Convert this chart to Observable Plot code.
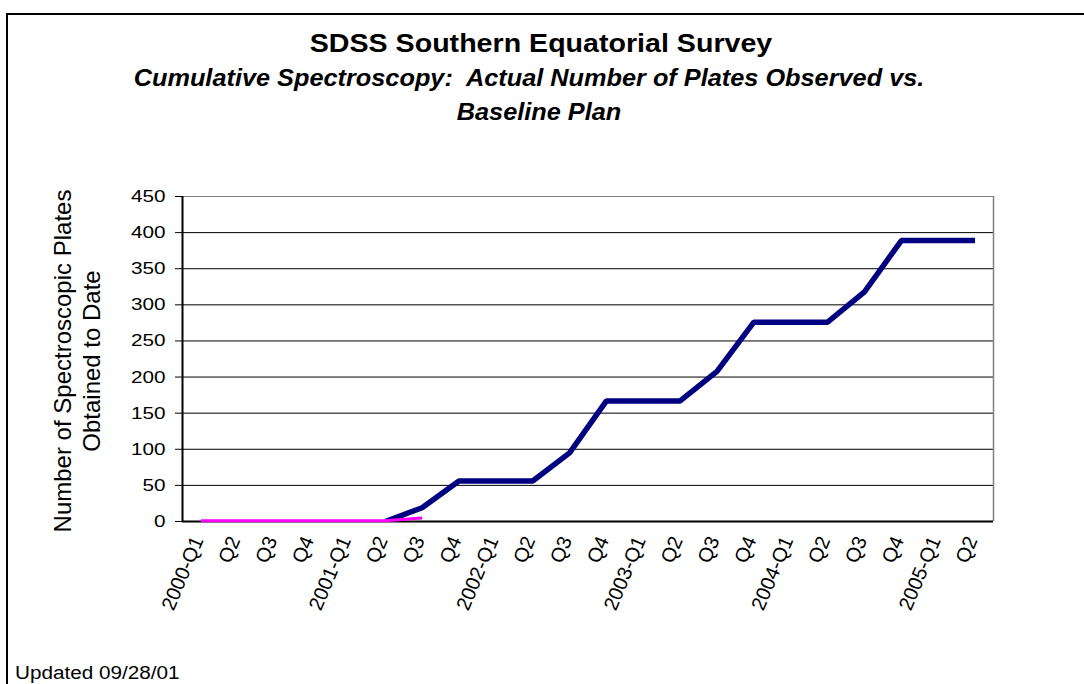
<!DOCTYPE html>
<html>
<head>
<meta charset="utf-8">
<script src="https://cdn.jsdelivr.net/npm/d3@7"></script>
<script src="https://cdn.jsdelivr.net/npm/@observablehq/plot@0.6"></script>
<style>
  body { margin: 0; background: #fff; }
  #wrap { position: relative; width: 1084px; height: 684px; overflow: hidden; background: #fff;
          font-family: "Liberation Sans", Arial, sans-serif; color: #000; }
  #border { position: absolute; left: 6px; top: 13px; width: 1200px; height: 800px;
            border-top: 2px solid #000; border-left: 2px solid #000; }
  .t { position: absolute; white-space: nowrap; text-align: center; line-height: 1; }
  #chart { position: absolute; left: 0; top: 0; }
  #title { left: 141px; width: 800px; top: 30px; font-size: 26px; font-weight: bold; transform: scaleX(1.1); }
  #sub1 { left: 129px; width: 800px; top: 67px; font-size: 23px; font-weight: bold; font-style: italic; transform: scaleX(1.1); }
  #sub2 { left: 139px; width: 800px; top: 101px; font-size: 23px; font-weight: bold; font-style: italic; transform: scaleX(1.1); }
  #updated { left: 15px; top: 664px; font-size: 18px; text-align: left; transform: scaleX(1.15); transform-origin: 0 0; }
  #ytitle { position: absolute; left: -123px; top: 332px; width: 400px; height: 58px; text-align: center;
            font-size: 24px; line-height: 29px; transform: rotate(-90deg); transform-origin: 200px 29px; white-space: nowrap; }
</style>
</head>
<body>
<div id="wrap">
  <div id="border"></div>
  <div id="chart"></div>
  <div class="t" id="title">SDSS Southern Equatorial Survey</div>
  <div class="t" id="sub1">Cumulative Spectroscopy:&nbsp; Actual Number of Plates Observed vs.</div>
  <div class="t" id="sub2">Baseline Plan</div>
  <div id="ytitle">Number of Spectroscopic Plates<br>Obtained to Date</div>
  <div class="t" id="updated">Updated 09/28/01</div>
</div>
<script>
// ---- data ----
const categories = ["2000-Q1","Q2","Q3","Q4","2001-Q1","Q2","Q3","Q4","2002-Q1","Q2","Q3","Q4",
                    "2003-Q1","Q2","Q3","Q4","2004-Q1","Q2","Q3","Q4","2005-Q1","Q2"];
// baseline plan (navy)
const planned = [null,null,null,null,null,0,19,56,56,56,95,167,167,167,208,276,276,276,318,389,389,389];
// actual plates observed (magenta)
const actual = [1,1,1,1,1,1,5];
const yTicks = [0,50,100,150,200,250,300,350,400,450];
const gridValues = [50,100,150,200,250,300,350,400];

const idx = categories.map((c, i) => i);

const chart = Plot.plot({
  width: 1084,
  height: 640,
  marginLeft: 182,
  marginRight: 91,
  marginTop: 196,
  marginBottom: 119,
  style: { background: "transparent", fontFamily: "'Liberation Sans', Arial, sans-serif", color: "#000", overflow: "visible" },
  x: { type: "linear", domain: [-0.5, categories.length - 0.5] },
  y: { domain: [0, 450] },
  marks: [
    Plot.ruleY(gridValues, { stroke: "#000", strokeWidth: 1 }),
    Plot.ruleY([450], { stroke: "#808080", strokeWidth: 1 }),
    Plot.ruleX([categories.length - 0.5], { stroke: "#808080", strokeWidth: 1.5 }),
    Plot.ruleX([-0.5], { stroke: "#000", strokeWidth: 2 }),
    Plot.ruleY([0], { stroke: "#000", strokeWidth: 2 }),
    Plot.line(planned, { x: (d, i) => i, y: d => d, stroke: "#000080", strokeWidth: 5.5,
                         strokeLinejoin: "bevel", strokeLinecap: "butt", clip: true }),
    Plot.line(actual, { x: (d, i) => i, y: d => d, stroke: "#ff00ff", strokeWidth: 3,
                        strokeLinecap: "butt" }),
    Plot.axisY({ ticks: yTicks, tickSize: 7, tickPadding: 10, fontSize: 17, stroke: "#000" }),
    Plot.axisX({ ticks: idx, tickFormat: i => categories[i], tickSize: 0, tickPadding: 16,
                 tickRotate: -67, textAnchor: "end", lineAnchor: "middle", fontSize: 20, dx: -3 })
  ]
});
document.getElementById("chart").appendChild(chart);

// widen the y tick labels slightly, as in the original rendering
d3.select(chart).selectAll('g[aria-label="y-axis tick label"] text').each(function () {
  const t = this.getAttribute("transform");
  if (t && !this.hasAttribute("x")) this.setAttribute("transform", t + " scale(1.22,1)");
});
</script>
</body>
</html>
